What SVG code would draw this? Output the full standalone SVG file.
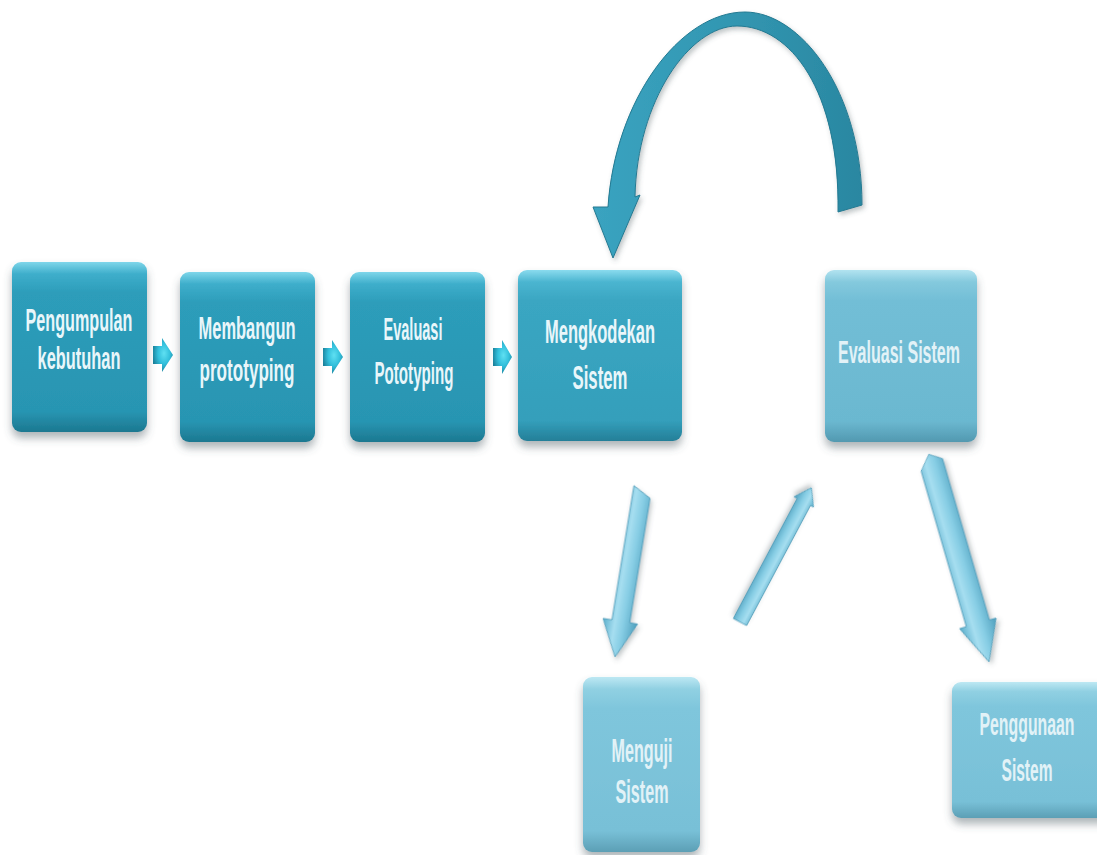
<svg xmlns="http://www.w3.org/2000/svg" width="1097" height="855" viewBox="0 0 1097 855">
<defs>
  <linearGradient id="gDark" x1="0" y1="0" x2="0" y2="1">
    <stop offset="0" stop-color="#7fd6ea"/>
    <stop offset="0.07" stop-color="#3eaecb"/>
    <stop offset="0.18" stop-color="#2d9dba"/>
    <stop offset="0.88" stop-color="#2895b2"/>
    <stop offset="1" stop-color="#1c7890"/>
  </linearGradient>
  <linearGradient id="gMid" x1="0" y1="0" x2="0" y2="1">
    <stop offset="0" stop-color="#8adbee"/>
    <stop offset="0.07" stop-color="#4bb5d0"/>
    <stop offset="0.18" stop-color="#3aa6c2"/>
    <stop offset="0.88" stop-color="#349fbb"/>
    <stop offset="1" stop-color="#247f98"/>
  </linearGradient>
  <linearGradient id="gLight" x1="0" y1="0" x2="0" y2="1">
    <stop offset="0" stop-color="#b2e3f0"/>
    <stop offset="0.07" stop-color="#84c9dd"/>
    <stop offset="0.18" stop-color="#72bed6"/>
    <stop offset="0.88" stop-color="#6bb8d0"/>
    <stop offset="1" stop-color="#5299b0"/>
  </linearGradient>
  <linearGradient id="gPale" x1="0" y1="0" x2="0" y2="1">
    <stop offset="0" stop-color="#bde8f3"/>
    <stop offset="0.07" stop-color="#90d0e2"/>
    <stop offset="0.18" stop-color="#7fc6dc"/>
    <stop offset="0.88" stop-color="#78c0d7"/>
    <stop offset="1" stop-color="#5c9fb5"/>
  </linearGradient>
  <radialGradient id="gSmall" cx="0.55" cy="0.45" r="0.6">
    <stop offset="0" stop-color="#5fe0f2"/>
    <stop offset="0.5" stop-color="#33c0dc"/>
    <stop offset="1" stop-color="#1a7f99"/>
  </radialGradient>
  <linearGradient id="gArc" x1="0" y1="0" x2="1" y2="0">
    <stop offset="0" stop-color="#3aa3c0"/>
    <stop offset="0.5" stop-color="#3297b2"/>
    <stop offset="1" stop-color="#2a87a1"/>
  </linearGradient>
  <linearGradient id="gDiag" x1="0" y1="0" x2="1" y2="0">
    <stop offset="0" stop-color="#5aaecb"/>
    <stop offset="0.35" stop-color="#a6def0"/>
    <stop offset="0.6" stop-color="#86cde4"/>
    <stop offset="1" stop-color="#4f9fbd"/>
  </linearGradient>
  <filter id="shadow" x="-20%" y="-20%" width="140%" height="150%">
    <feDropShadow dx="0" dy="6" stdDeviation="4" flood-color="#4a5a60" flood-opacity="0.45"/>
  </filter>
  <filter id="soft" x="-30%" y="-30%" width="160%" height="160%">
    <feDropShadow dx="2" dy="3" stdDeviation="2.5" flood-color="#4a5a60" flood-opacity="0.35"/>
  </filter>
</defs>
<style>
  .lbl { font-family: 'Liberation Sans', Arial, sans-serif; font-weight: bold; fill: #e9f6fa; text-anchor: middle; }
  .lblL { font-family: 'Liberation Sans', Arial, sans-serif; font-weight: bold; fill: #e2f2f7; text-anchor: middle; }
</style>
<rect width="1097" height="855" fill="#ffffff"/>

<g id="connectors">
  <g id="arc-back" filter="url(#soft)">
    <path d="M608 207 C615 100 680 12 745 12 C800 12 862 90 862 205 L838 212 C840 90 790 26 737 26 C690 26 637 100 635 197 L640 195 L613 258 L593 207 Z" fill="url(#gArc)" stroke="#237a92" stroke-width="1"/>
  </g>
  <g id="arrow-1-2"><path d="M153 346 L162 346 L162 338 L173 355 L162 372 L162 364 L153 364 Z" fill="url(#gSmall)"/></g>
  <g id="arrow-2-3"><path d="M323 348 L332 348 L332 340 L343 357 L332 374 L332 366 L323 366 Z" fill="url(#gSmall)"/></g>
  <g id="arrow-3-4"><path d="M493 348 L502 348 L502 340 L512 357 L502 374 L502 366 L493 366 Z" fill="url(#gSmall)"/></g>
  <g id="arrow-code-test" filter="url(#soft)" transform="translate(642,492) rotate(9.3)">
    <path d="M-9 -5 L9 5 L9 131 L17 131 L0 167 L-18 131 L-9 131 Z" fill="url(#gDiag)" stroke="#4c9bb7" stroke-width="0.8"/>
  </g>
  <g id="arrow-test-eval" filter="url(#soft)" transform="translate(740,622) rotate(208)">
    <path d="M-7.5 0 L7.5 0 L7.5 136 L11 136 L0 152 L-11 136 L-7.5 136 Z" fill="url(#gDiag)" stroke="#4c9bb7" stroke-width="0.8"/>
  </g>
  <g id="arrow-eval-use" filter="url(#soft)" transform="translate(931,462) rotate(-16.2)">
    <path d="M-12 6 L0 -8 L12 0 L12 168 L19 168 L0 208 L-19 168 L-12 168 Z" fill="url(#gDiag)" stroke="#4c9bb7" stroke-width="0.8"/>
  </g>
</g>

<g id="node-pengumpulan">
  <rect x="12" y="262" width="135" height="170" rx="9" fill="url(#gDark)" filter="url(#shadow)"/>
  <text class="lbl" transform="translate(79,331) scale(0.5,1)" font-size="31" textLength="214" lengthAdjust="spacingAndGlyphs">Pengumpulan</text>
  <text class="lbl" transform="translate(79,369) scale(0.5,1)" font-size="31" textLength="166" lengthAdjust="spacingAndGlyphs">kebutuhan</text>
</g>
<g id="node-membangun">
  <rect x="180" y="272" width="135" height="170" rx="9" fill="url(#gDark)" filter="url(#shadow)"/>
  <text class="lbl" transform="translate(247,339) scale(0.5,1)" font-size="31" textLength="194" lengthAdjust="spacingAndGlyphs">Membangun</text>
  <text class="lbl" transform="translate(247,381) scale(0.5,1)" font-size="31" textLength="190" lengthAdjust="spacingAndGlyphs">prototyping</text>
</g>
<g id="node-evaluasi-prototyping">
  <rect x="350" y="272" width="135" height="170" rx="9" fill="url(#gDark)" filter="url(#shadow)"/>
  <text class="lbl" transform="translate(413,340) scale(0.5,1)" font-size="31" textLength="118" lengthAdjust="spacingAndGlyphs">Evaluasi</text>
  <text class="lbl" transform="translate(414,384) scale(0.5,1)" font-size="31" textLength="158" lengthAdjust="spacingAndGlyphs">Pototyping</text>
</g>
<g id="node-mengkodekan">
  <rect x="518" y="270" width="164" height="171" rx="9" fill="url(#gMid)" filter="url(#shadow)"/>
  <text class="lbl" transform="translate(600,343) scale(0.5,1)" font-size="34" textLength="220" lengthAdjust="spacingAndGlyphs">Mengkodekan</text>
  <text class="lbl" transform="translate(600,389) scale(0.5,1)" font-size="34" textLength="110" lengthAdjust="spacingAndGlyphs">Sistem</text>
</g>
<g id="node-evaluasi-sistem">
  <rect x="825" y="270" width="152" height="172" rx="9" fill="url(#gLight)" filter="url(#shadow)"/>
  <text class="lblL" transform="translate(899,363) scale(0.5,1)" font-size="32" textLength="244" lengthAdjust="spacingAndGlyphs">Evaluasi Sistem</text>
</g>
<g id="node-menguji">
  <rect x="583" y="677" width="117" height="175" rx="9" fill="url(#gPale)" filter="url(#shadow)"/>
  <text class="lblL" transform="translate(642,762) scale(0.5,1)" font-size="34" textLength="122" lengthAdjust="spacingAndGlyphs">Menguji</text>
  <text class="lblL" transform="translate(642,803) scale(0.5,1)" font-size="34" textLength="106" lengthAdjust="spacingAndGlyphs">Sistem</text>
</g>
<g id="node-penggunaan">
  <rect x="952" y="682" width="160" height="136" rx="9" fill="url(#gPale)" filter="url(#shadow)"/>
  <text class="lblL" transform="translate(1027,735) scale(0.5,1)" font-size="32" textLength="190" lengthAdjust="spacingAndGlyphs">Penggunaan</text>
  <text class="lblL" transform="translate(1027,781) scale(0.5,1)" font-size="32" textLength="102" lengthAdjust="spacingAndGlyphs">Sistem</text>
</g>
</svg>
